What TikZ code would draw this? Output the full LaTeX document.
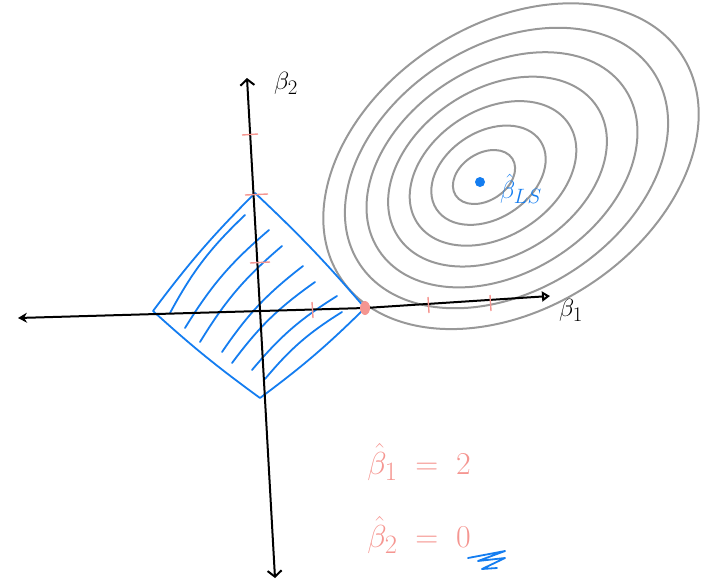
\documentclass[tikz,border=0pt]{standalone}
\usepackage{amsmath}
\usetikzlibrary{arrows.meta,positioning}
\definecolor{lassoblue}{RGB}{20,125,240}
\definecolor{lassopink}{RGB}{245,150,145}
\definecolor{contgray}{RGB}{152,152,152}
\tikzset{
  ax/.style={line width=2pt,black,line cap=round},
  contour/.style={draw=contgray,line width=2pt},
  ballline/.style={draw=lassoblue,line width=1.8pt,line join=round},
  hatch/.style={lassoblue,line width=1.8pt,line cap=round,line join=round},
  tick/.style={lassopink,line width=1.4pt},
  axlbl/.style={font=\Huge,inner sep=0pt},
  eqlbl/.style={font=\Huge,scale=1.28,text=lassopink,inner sep=0pt},
}

\begin{document}
\begin{tikzpicture}[x=1pt,y=1pt]
  \useasboundingbox (0,0) rectangle (712,-587);
  % axes
  \coordinate (xl) at (18,-318);
  \coordinate (xm) at (365,-308);
  \coordinate (xr) at (550,-296);
  \coordinate (yt) at (247,-78);
  \coordinate (yb) at (275,-578);
  % contours of the squared error
  \foreach \k in {0,...,6}{
    \pgfmathsetmacro{\hw}{31+26*\k}
    \draw[contour] ({484+4.5*\k},{-177+1.8*\k})
      ellipse[x radius={1.09*\hw},y radius={0.76*\hw},rotate=33];
  }
  % l1 ball
  \coordinate (dt) at (255,-193);
  \coordinate (dr) at (365,-308);
  \coordinate (db) at (260,-398);
  \coordinate (dl) at (153,-311);
  \draw[ballline] (dt) to[bend left=3] (dr) to[bend left=4] (db)
    to[bend left=3] (dl) to[bend left=4] cycle;
  \foreach \sx/\sy/\ex/\ey in {170/313/245/215, 185/328/269/230, 200/342/282/246,
      222/352/303/266, 232/363/315/282, 252/370/337/296, 265/379/342/312}
    \draw[hatch] (\sx,-\sy) to[bend left=9] (\ex,-\ey);
  \draw[ax,{Stealth[length=9pt,width=10pt]}-{Triangle[open,length=8pt,width=10pt]}]
    (xl) -- (xm) -- (xr);
  \draw[ax,{Straight Barb[length=6pt,width=14pt]}-{Straight Barb[length=6pt,width=14pt]}]
    (yt) -- (yb);
  % ticks
  \foreach \ty/\ta/\tb in {135/242/258, 195/245/268, 263/250/270}
    \draw[tick] (\ta,-\ty) -- (\tb,-\ty+1);
  \foreach \tx/\tya in {312/310, 428/305, 490/303}
    \draw[tick] (\tx,-\tya+8) -- (\tx+1,-\tya-8);
  \fill[lassopink] (dr) ellipse[x radius=5,y radius=7];
  \fill[lassoblue] (480,-182) circle (5);
  % labels
  \node[axlbl] (b2) at (286,-83) {$\beta_2$};
  \node[axlbl] (b1) at (571,-310) {$\beta_1$};
  \node[axlbl,text=lassoblue] (bls) at (521,-189) {$\hat\beta_{LS}$};
  \node[eqlbl] (e1) at (419,-462) {$\hat\beta_1 \;=\; 2$};
  \node[eqlbl,below=36pt of e1] (e2) {$\hat\beta_2 \;=\; 0$};
  \draw[hatch] (468,-558) -- (505,-551) -- (478,-561) -- (505,-558) -- (482,-569) -- (497,-568);
\end{tikzpicture}
\end{document}
